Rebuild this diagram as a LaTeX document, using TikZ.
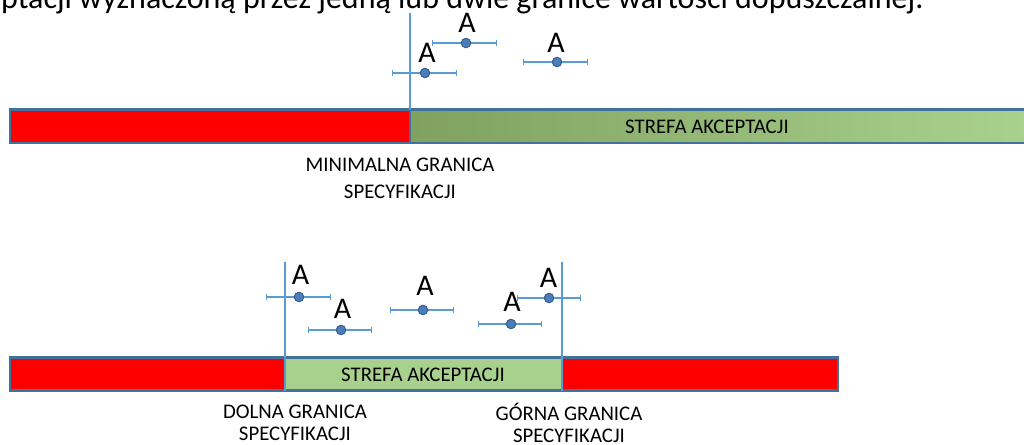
\documentclass[tikz,border=0pt]{standalone}
\usepackage{fontspec}
\setmainfont{Carlito}
\usetikzlibrary{arrows.meta}
\definecolor{bord}{HTML}{41719C}
\definecolor{lim}{HTML}{5B9BD5}
\definecolor{grn}{HTML}{A9D18E}
\definecolor{grnd}{HTML}{80A160}
\definecolor{dotc}{HTML}{4A7EBB}
\definecolor{dotb}{HTML}{385D8A}
\begin{document}
\begin{tikzpicture}[x=1pt,y=-1pt,
  zone/.style={draw=bord, line width=2.8pt, inner sep=0pt, outer sep=0pt, anchor=north west, minimum height=33.3pt},
  limline/.style={draw=lim, line width=2.6pt},
  ebar/.style={draw=lim, line width=1.3pt, {Bar[width=6.5pt,line width=1.3pt]}-{Bar[width=6.5pt,line width=1.3pt]}},
  dotnode/.style={circle, fill=dotc, draw=dotb, line width=1pt, minimum size=9.5pt, inner sep=0pt},
  alab/.style={font=\fontsize{30}{30}\selectfont, inner sep=0pt},
  zonetxt/.style={font=\fontsize{20.8}{25}\selectfont, inner sep=0pt},
  captxt/.style={font=\fontsize{20.8}{26.5}\selectfont, align=center, inner sep=0pt},
  captxtb/.style={font=\fontsize{20.8}{22.5}\selectfont, align=center, inner sep=0pt}]
\useasboundingbox (0,0) rectangle (1024,444);
\clip (0,0) rectangle (1024,444);

% title fragment
\node[anchor=base west, font=\fontsize{32}{32}\selectfont, inner sep=0pt] (title) at (1,9)
  {ptacji wyznaczoną przez jedną lub dwie granice wartości dopuszczalnej.};

% ---------- upper scale ----------
\node[zone, fill=red, minimum width=400pt] (r1) at (10,109.7) {};
\node[zone, left color=grnd, right color=grn, minimum width=616pt] (g1) at (410,109.7) {};
\node[zonetxt] (g1txt) at (707,127) {STREFA AKCEPTACJI};
\coordinate (m1top) at (410,13);
\draw[limline] (m1top) -- (g1.north west);
\node[captxt] (mintxt) at (400,178.5) {MINIMALNA GRANICA\\SPECYFIKACJI};

% upper points
\foreach \n/\x/\y/\l/\r/\ax/\ay in {t1/425/73/392/457/427/53, t2/466/43/432/497/467/23, t3/557/62/523/588/556/43}{
  \coordinate (\n l) at (\l,\y);
  \coordinate (\n r) at (\r,\y);
  \draw[ebar] (\n l) -- (\n r);
  \node[dotnode] (\n) at (\x,\y) {};
  \node[alab] (\n a) at (\ax,\ay) {A};
}

% ---------- lower scale ----------
\node[zone, fill=red, minimum width=828pt] (r2) at (10,357.3) {};
\node[zone, fill=grn, minimum width=277pt] (g2) at (285,357.3) {};
\node[zonetxt] (g2txt) at (423,374.5) {STREFA AKCEPTACJI};
\coordinate (lotop) at (285,262);
\coordinate (uptop) at (562,262);
\draw[limline] (lotop) -- (g2.south west);
\draw[limline] (uptop) -- (g2.south east);
\node[captxtb] (lotxt) at (295,423) {DOLNA GRANICA\\SPECYFIKACJI};
\node[captxtb] (uptxt) at (569,423) {GÓRNA GRANICA\\SPECYFIKACJI};

% lower points
\foreach \n/\x/\y/\l/\r/\ax/\ay in {b1/299/297/266/331/300.5/275, b2/341/330/308/372/342.5/308.5, b3/423/310/390/454/425/286, b4/511/324/478/542/512/302, b5/549/298/517/581/548.5/278}{
  \coordinate (\n l) at (\l,\y);
  \coordinate (\n r) at (\r,\y);
  \draw[ebar] (\n l) -- (\n r);
  \node[dotnode] (\n) at (\x,\y) {};
  \node[alab] (\n a) at (\ax,\ay) {A};
}
\end{tikzpicture}
\end{document}
